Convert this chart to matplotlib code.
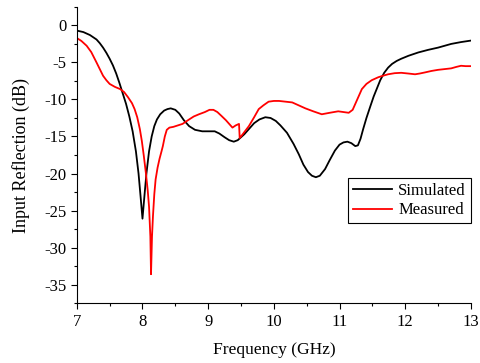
import matplotlib.pyplot as plt
from matplotlib.ticker import MultipleLocator

# Simulated input reflection (S11) of the design
freq_sim = [7.0, 7.1, 7.2, 7.3, 7.35, 7.4, 7.45, 7.5, 7.55, 7.6, 7.65, 7.7, 7.75,
            7.8, 7.85, 7.9, 7.94, 7.97, 8.0, 8.03, 8.06, 8.1, 8.14, 8.18, 8.22,
            8.27, 8.33, 8.38, 8.43, 8.5, 8.56, 8.63, 8.71, 8.8, 8.91, 9.0, 9.1,
            9.17, 9.25, 9.32, 9.39, 9.45, 9.5, 9.55, 9.62, 9.7, 9.78, 9.87, 9.95,
            10.03, 10.1, 10.2, 10.3, 10.38, 10.45, 10.52, 10.58, 10.64, 10.7,
            10.78, 10.85, 10.93, 11.0, 11.06, 11.12, 11.18, 11.24, 11.28, 11.32,
            11.36, 11.41, 11.47, 11.52, 11.57, 11.62, 11.68, 11.74, 11.8, 11.87,
            11.94, 12.05, 12.2, 12.35, 12.5, 12.6, 12.7, 12.85, 13.0]
s11_sim = [-0.7, -0.9, -1.3, -1.9, -2.4, -3.0, -3.7, -4.5, -5.4, -6.5, -7.8, -9.2,
           -10.6, -12.3, -14.3, -17.0, -20.0, -23.0, -26.1, -23.0, -20.0, -17.0,
           -15.0, -13.6, -12.7, -12.0, -11.5, -11.3, -11.2, -11.4, -11.9, -12.8,
           -13.6, -14.1, -14.3, -14.3, -14.3, -14.6, -15.1, -15.5, -15.7, -15.5,
           -15.1, -14.7, -14.0, -13.2, -12.7, -12.4, -12.5, -12.9, -13.5, -14.5,
           -16.0, -17.4, -18.8, -19.8, -20.3, -20.5, -20.3, -19.4, -18.2, -16.9,
           -16.1, -15.8, -15.7, -15.9, -16.3, -16.2, -15.3, -14.0, -12.5, -10.9,
           -9.6, -8.5, -7.4, -6.4, -5.7, -5.2, -4.8, -4.5, -4.1, -3.65, -3.3,
           -3.0, -2.75, -2.5, -2.25, -2.05]

# Measured input reflection
freq_meas = [7.0, 7.07, 7.15, 7.22, 7.3, 7.35, 7.4, 7.45, 7.5, 7.58, 7.66, 7.72,
             7.78, 7.84, 7.88, 7.92, 7.96, 7.99, 8.02, 8.05, 8.08, 8.1, 8.12,
             8.13, 8.145, 8.16, 8.18, 8.2, 8.23, 8.26, 8.29, 8.31, 8.34, 8.37,
             8.41, 8.47, 8.54, 8.61, 8.66, 8.71, 8.78, 8.86, 8.95, 9.02, 9.08,
             9.14, 9.2, 9.27, 9.33, 9.37, 9.42, 9.47, 9.48, 9.5, 9.56, 9.62, 9.7,
             9.77, 9.84, 9.92, 10.0, 10.08, 10.18, 10.28, 10.38, 10.48, 10.6,
             10.73, 10.85, 10.98, 11.06, 11.14, 11.2, 11.24, 11.29, 11.34, 11.41,
             11.49, 11.59, 11.66, 11.74, 11.84, 11.94, 12.05, 12.15, 12.22, 12.3,
             12.4, 12.5, 12.6, 12.7, 12.78, 12.85, 12.92, 13.0]
s11_meas = [-1.7, -2.1, -2.75, -3.6, -5.0, -5.9, -6.8, -7.4, -7.9, -8.3, -8.6,
            -9.0, -9.7, -10.5, -11.3, -12.4, -14.0, -15.6, -17.6, -19.8, -22.3,
            -24.5, -28.5, -33.6, -28.5, -25.7, -22.8, -20.8, -19.2, -18.0, -17.0,
            -16.3, -15.0, -14.1, -13.8, -13.7, -13.5, -13.3, -13.0, -12.7, -12.3,
            -12.0, -11.7, -11.4, -11.4, -11.7, -12.2, -12.8, -13.4, -13.8, -13.5,
            -13.3, -15.2, -15.0, -14.3, -13.6, -12.4, -11.3, -10.8, -10.3, -10.2,
            -10.2, -10.3, -10.4, -10.8, -11.2, -11.6, -12.0, -11.8, -11.6, -11.7,
            -11.8, -11.4, -10.6, -9.6, -8.6, -7.9, -7.4, -7.0, -6.8, -6.6, -6.45,
            -6.4, -6.5, -6.6, -6.5, -6.35, -6.15, -6.0, -5.9, -5.8, -5.6, -5.45,
            -5.5, -5.5]

plt.rcParams['font.family'] = ['Liberation Serif', 'DejaVu Serif']
plt.rcParams['font.size'] = 12
plt.rcParams['axes.unicode_minus'] = False

fig = plt.figure(figsize=(4.8, 3.63), dpi=100)
ax = fig.add_axes([0.160, 0.165, 0.821, 0.816])

ax.plot(freq_sim, s11_sim, color='black', lw=1.3, label='Simulated')
ax.plot(freq_meas, s11_meas, color='red', lw=1.3, label='Measured')

ax.set_xlim(7, 13)
ax.set_ylim(-37.5, 2.5)
ax.xaxis.set_major_locator(MultipleLocator(1))
ax.xaxis.set_minor_locator(MultipleLocator(0.5))
ax.yaxis.set_major_locator(MultipleLocator(5))
ax.yaxis.set_minor_locator(MultipleLocator(2.5))
ax.tick_params(which='major', direction='out', length=4, width=0.8)
ax.tick_params(which='minor', direction='out', length=2.5, width=0.8)

for side in ['top', 'right']:
    ax.spines[side].set_visible(False)
for side in ['left', 'bottom']:
    ax.spines[side].set_linewidth(0.8)

ax.set_xlabel('Frequency (GHz)', fontsize=12.6, labelpad=9)
ax.set_ylabel('Input Reflection (dB)', fontsize=13, labelpad=10)

leg = ax.legend(loc='upper right', bbox_to_anchor=(1.0, 0.422), borderaxespad=0,
                fancybox=False, framealpha=1, edgecolor='black',
                handlelength=2.3, handletextpad=0.4, borderpad=0.3,
                labelspacing=0.2)
leg.get_frame().set_linewidth(0.8)

fig.savefig('out.png', dpi=100)
